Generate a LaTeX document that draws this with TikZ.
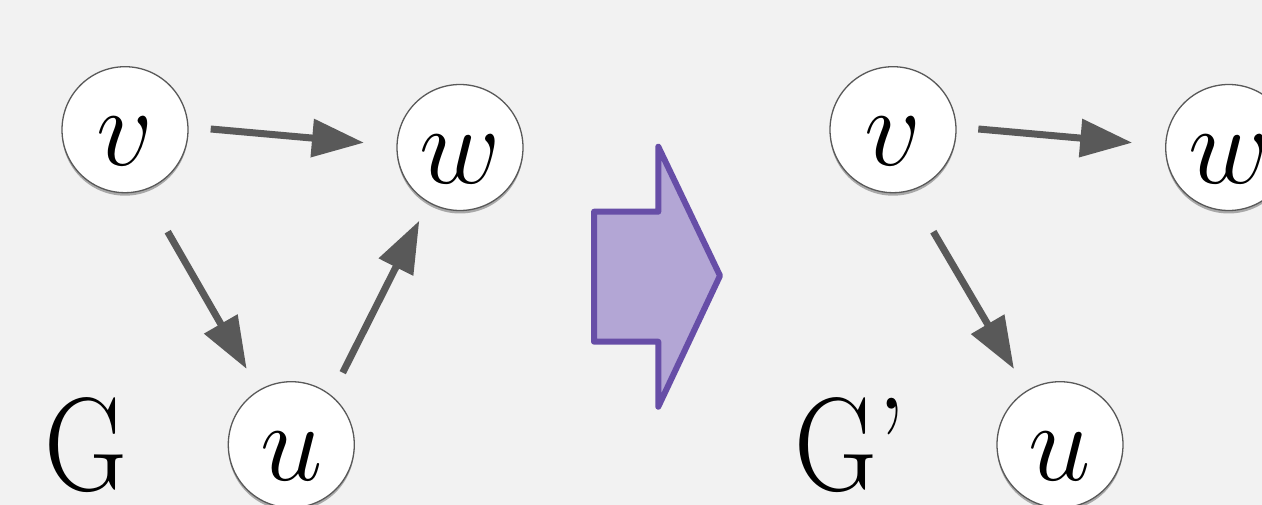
\RequirePackage{fix-cm}
\documentclass[tikz,border=0pt]{standalone}
\usetikzlibrary{arrows.meta,shadows,calc}
\definecolor{bg}{HTML}{F2F2F2}
\definecolor{arrowgray}{HTML}{595959}
\definecolor{purplefill}{RGB}{179,166,213}
\definecolor{purpleline}{RGB}{103,78,167}
\begin{document}
\begin{tikzpicture}[x=1pt,y=-1pt,
  vtx/.style={circle, draw=black!65, line width=1.3pt, fill=white,
    minimum size=126pt, inner sep=0pt, text height=72pt, text depth=0pt,
    font=\fontsize{112}{112}\selectfont,
    drop shadow={shadow xshift=0pt, shadow yshift=-3pt, opacity=0.3, fill=black}},
  edge/.style={draw=arrowgray, line width=7pt, -{Triangle[length=52pt,width=37pt]}},
  glabel/.style={anchor=base west, inner sep=0pt, xscale=0.86, transform shape,
    font=\fontsize{133}{133}\selectfont}]
\useasboundingbox (0,0) rectangle (1262,505);
\fill[bg] (0,0) rectangle (1262,505);
\clip (0,0) rectangle (1262,505);
% left graph G
\node[vtx] (v1) at (125,129.7) {$v$};
\node[vtx] (w1) at (460,147.5) {$w$};
\node[vtx] (u1) at (291.3,444.7) {$u$};
\node[glabel] (g1) at (44,490) {G};
\draw[edge] ($(v1)+(85.7,-0.7)$) -- ($(w1)+(-96,-4.8)$);
\draw[edge] ($(v1)+(42.7,102)$) -- ($(u1)+(-44.6,-75.7)$);
\draw[edge] ($(u1)+(51.4,-72)$) -- ($(w1)+(-40.7,73.2)$);
% transformation arrow
\draw[fill=purplefill, draw=purpleline, line width=6pt, line join=round]
  (594,211.7) -- (658.3,211.7) -- (658.3,146.7) -- (720,275.7) -- (658.3,406.7)
  -- (658.3,341.7) -- (594,341.7) -- cycle;
% right graph G'
\node[vtx] (v2) at (893,129.7) {$v$};
\node[vtx] (w2) at (1228.7,147.5) {$w$};
\node[vtx] (u2) at (1060,444.7) {$u$};
\node[glabel] (g2) at (794,490) {G’};
\draw[edge] ($(v2)+(85.3,-0.7)$) -- ($(w2)+(-96.4,-4.8)$);
\draw[edge] ($(v2)+(40.3,102)$) -- ($(u2)+(-46,-75.7)$);
\end{tikzpicture}
\end{document}
